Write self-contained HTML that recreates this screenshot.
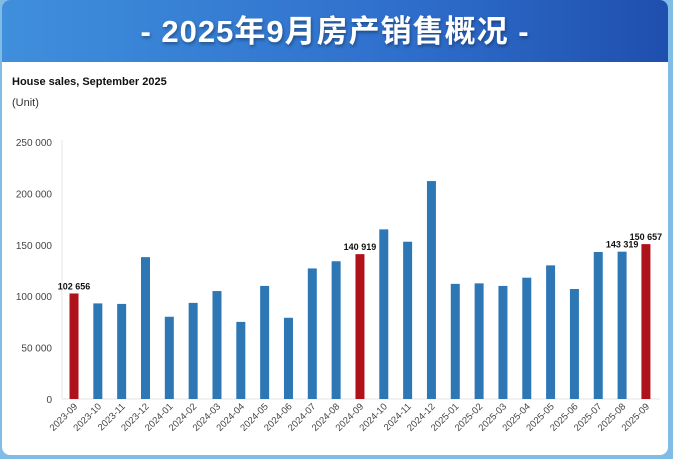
<!DOCTYPE html>
<html><head><meta charset="utf-8"><style>
body{margin:0;width:673px;height:459px;background:#7fbde6;overflow:hidden;font-family:"Liberation Sans","Noto Sans CJK SC",sans-serif}
#card{position:absolute;left:2px;top:0;width:666px;height:455px;background:#fff;border-radius:8px;overflow:hidden}
#hdr{position:absolute;left:0;top:0;width:666px;height:62px;background:linear-gradient(90deg,#3f8fdc,#2f6fcc 60%,#1f4fae);text-align:center;color:#fff;font-weight:bold;font-size:31px;line-height:64px;letter-spacing:1px;text-shadow:1px 2px 3px rgba(0,0,0,.35)}
</style></head><body>
<div id="card"><div id="hdr">- 2025年9月房产销售概况 -</div></div>
<svg id="s" width="673" height="459" style="position:absolute;left:0;top:0" font-family="Liberation Sans, sans-serif"></svg>
<script>
var v=[102656,93000,92500,138000,80000,93500,105000,75000,110000,79000,127000,134000,140919,165000,153000,212000,112000,112500,110000,118000,130000,107000,143000,143319,150657];
var l=["2023-09","2023-10","2023-11","2023-12","2024-01","2024-02","2024-03","2024-04","2024-05","2024-06","2024-07","2024-08","2024-09","2024-10","2024-11","2024-12","2025-01","2025-02","2025-03","2025-04","2025-05","2025-06","2025-07","2025-08","2025-09"];
var h='<text x="12" y="85" font-size="11" font-weight="bold" fill="#111">House sales, September 2025</text><text x="12" y="106" font-size="11" fill="#333">(Unit)</text>';
h+='<line x1="62" y1="140" x2="62" y2="399" stroke="#e4e4e4"/><line x1="62" y1="399" x2="660" y2="399" stroke="#e4e4e4"/>';
var t=["0","50 000","100 000","150 000","200 000","250 000"];
for(var i=0;i<6;i++){var y=399-i*51.4;h+='<text x="52" y="'+(y+4)+'" font-size="10" fill="#444" text-anchor="end">'+t[i]+'</text>';}
var red={0:1,12:1,24:1},lab={0:1,12:1,23:1,24:1};
for(var i=0;i<25;i++){var x=74+i*23.83,bh=v[i]*257/250000,y=399-bh;
h+='<rect x="'+(x-4.5)+'" y="'+y+'" width="9" height="'+bh+'" fill="'+(red[i]?'#b0121b':'#2e77b5')+'"/>';
if(lab[i]){var s=String(v[i]);s=s.slice(0,3)+' '+s.slice(3);h+='<text x="'+x+'" y="'+(y-4)+'" font-size="9" font-weight="bold" text-anchor="middle" fill="#111">'+s+'</text>';}
h+='<text transform="translate('+(x+4)+',407) rotate(-45)" font-size="9.5" fill="#444" text-anchor="end">'+l[i]+'</text>';}
document.getElementById('s').innerHTML=h;
</script>
</body></html>
